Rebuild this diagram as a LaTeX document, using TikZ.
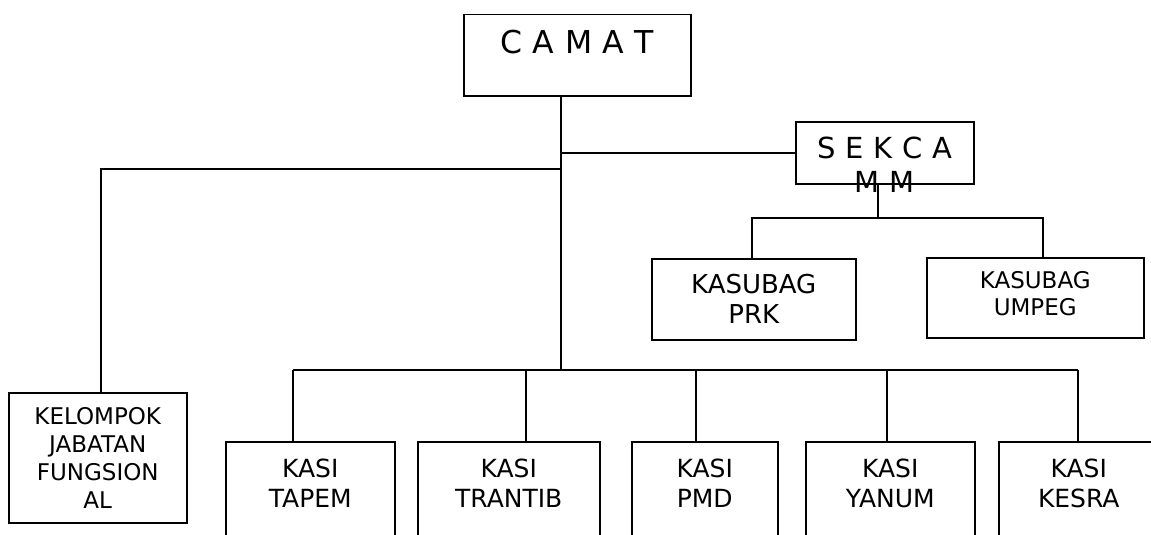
\documentclass[tikz,border=0pt]{standalone}
\usepackage{fontspec}
\setmainfont{DejaVu Sans}
\usepackage{tikz}
\usetikzlibrary{positioning}

\begin{document}
\begin{tikzpicture}[x=1pt, y=-1pt]
\tikzstyle{unit} = [rectangle, draw=black, line width=1.5pt, inner sep=0pt, anchor=north west, align=center]
\tikzstyle{kasi} = [unit, text height=36pt, text depth=160pt, font=\fontsize{25}{30}\selectfont]
\tikzstyle{conn} = [line width=1.5pt]

\clip (0,0) rectangle (1151,535);

% top
\node (camat) [unit, text width=227pt, text height=39pt, text depth=42pt, font=\fontsize{31.5}{36}\selectfont] at (463,14) {C A M A T};
\node (sekca) [unit, text width=178pt, text height=37pt, text depth=25pt, font=\fontsize{29}{34}\selectfont] at (795,121) {S E K C A\\M M};

% subbagian
\node (prk) [unit, text width=204pt, text height=35pt, text depth=46pt, font=\fontsize{26}{30}\selectfont] at (651,258) {KASUBAG\\PRK};
\node (umpeg) [unit, text width=217pt, text height=31pt, text depth=49pt, font=\fontsize{23}{27}\selectfont] at (926,257) {KASUBAG\\UMPEG};

% fungsional
\node (kelompok) [unit, text width=178pt, text height=32pt, text depth=98pt, font=\fontsize{23}{28}\selectfont] at (8,392) {KELOMPOK\\JABATAN\\FUNGSION\\AL};

% seksi
\node (tapem) [kasi, text width=169pt] at (225,441) {KASI\\TAPEM};
\node (trantib) [kasi, text width=182pt] at (417,441) {KASI\\TRANTIB};
\node (pmd) [kasi, text width=146pt] at (631,441) {KASI\\PMD};
\node (yanum) [kasi, text width=169pt] at (805,441) {KASI\\YANUM};
\node (kesra) [kasi, text width=160pt] at (998,441) {KASI\\KESRA};

% junctions
\coordinate (trunk) at (561,370);
\coordinate (kfork) at (101,169);
\coordinate (sfork) at (878,218);
\coordinate (prkdrop) at (752,218);
\coordinate (umpegdrop) at (1043,218);
\coordinate (dtapem) at (293,370);
\coordinate (dtrantib) at (526,370);
\coordinate (dpmd) at (696,370);
\coordinate (dyanum) at (887,370);
\coordinate (dkesra) at (1078,370);

\draw [conn] (camat.south -| trunk) -- (trunk);
\draw [conn] (trunk |- sekca.west) -- (sekca.west);
\draw [conn] (kfork -| trunk) -- (kfork) -- (kfork |- kelompok.north);

\draw [conn] (sekca.south -| sfork) -- (sfork);
\draw [conn] (prkdrop |- prk.north) -- (prkdrop) -- (umpegdrop) -- (umpegdrop |- umpeg.north);

\draw [conn] (dtapem) -- (dkesra);
\draw [conn] (dtapem) -- (dtapem |- tapem.north);
\draw [conn] (dtrantib) -- (dtrantib |- trantib.north);
\draw [conn] (dpmd) -- (dpmd |- pmd.north);
\draw [conn] (dyanum) -- (dyanum |- yanum.north);
\draw [conn] (dkesra) -- (dkesra |- kesra.north);
\end{tikzpicture}
\end{document}
